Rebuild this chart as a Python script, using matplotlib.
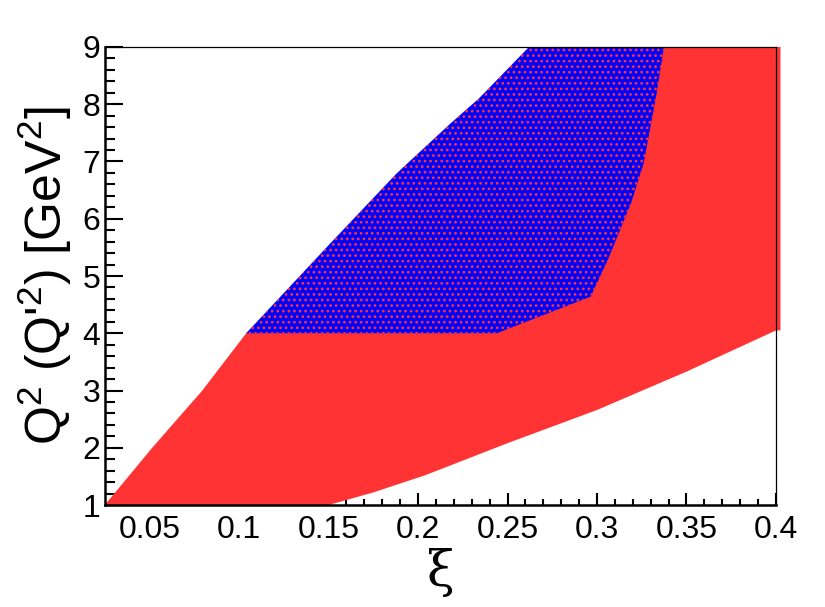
import matplotlib
matplotlib.use('Agg')
import matplotlib.pyplot as plt
from matplotlib.ticker import MultipleLocator
import numpy as np

plt.rcParams['font.family'] = ['Liberation Sans', 'DejaVu Sans']
plt.rcParams['mathtext.fontset'] = 'custom'
plt.rcParams['mathtext.rm'] = 'Liberation Sans'
plt.rcParams['mathtext.it'] = 'Liberation Sans:italic'
plt.rcParams['hatch.color'] = '#ff3333'
plt.rcParams['hatch.linewidth'] = 1.2

# red region (xi, Q2) : upper boundary then lower boundary
red_xi_top = [0.025, 0.0515, 0.0795, 0.104, 0.2785, 0.4025]
red_q2_top = [1.0, 2.0, 3.0, 4.0, 9.0, 9.0]
red_xi_low = [0.4025, 0.40, 0.35, 0.30, 0.25, 0.204, 0.175, 0.15, 0.025]
red_q2_low = [4.05, 4.05, 3.33, 2.66, 2.08, 1.52, 1.22, 1.0, 1.0]

# blue region (xi, Q'2)
blue_xi = [0.104, 0.151, 0.188, 0.218, 0.234, 0.262, 0.3374, 0.333, 0.326,
           0.319, 0.306, 0.2965, 0.244]
blue_q2 = [4.0, 5.57, 6.79, 7.66, 8.10, 9.0, 9.0, 8.13, 6.96,
           6.27, 5.28, 4.64, 4.0]

fig = plt.figure(figsize=(8.25, 6.07), dpi=100)
ax = fig.add_axes([0.127, 0.168, 0.8136, 0.7546])

ax.fill(red_xi_top + red_xi_low, red_q2_top + red_q2_low,
        color='#ff3333', lw=0, zorder=2, clip_on=False)
ax.fill(blue_xi, blue_q2, facecolor='#0000ff', edgecolor='#ff3333',
        hatch='...', lw=0, zorder=3)

ax.set_xlim(0.025, 0.4)
ax.set_ylim(1, 9)

ax.xaxis.set_minor_locator(MultipleLocator(0.01))
ax.yaxis.set_minor_locator(MultipleLocator(0.2))
ax.set_xticks(np.arange(0.05, 0.401, 0.05))
ax.set_xticklabels(['0.05', '0.1', '0.15', '0.2', '0.25', '0.3', '0.35', '0.4'])
ax.set_yticks(np.arange(1, 10))
ax.set_yticklabels([str(i) for i in range(1, 10)])

ax.tick_params(axis='x', which='major', direction='in', length=9, width=1.5,
               labelsize=23, pad=7)
ax.tick_params(axis='x', which='minor', direction='in', length=4.5, width=1.5)
ax.tick_params(axis='y', which='major', direction='in', length=13, width=1.5,
               labelsize=23, pad=3)
ax.tick_params(axis='y', which='minor', direction='in', length=7, width=1.5)

ax.spines['left'].set_linewidth(1.8)
ax.spines['bottom'].set_linewidth(1.8)
ax.spines['top'].set_linewidth(0.9)
ax.spines['right'].set_linewidth(0.9)
for s in ax.spines.values():
    s.set_zorder(5)

ax.set_ylabel(r"Q$^{2}$ (Q'$^{2}$) [GeV$^{2}$]", fontsize=36, labelpad=6)
ax.set_xlabel('ξ', fontsize=36, family=['DejaVu Serif'], labelpad=2)

fig.savefig('out.png', dpi=100)
